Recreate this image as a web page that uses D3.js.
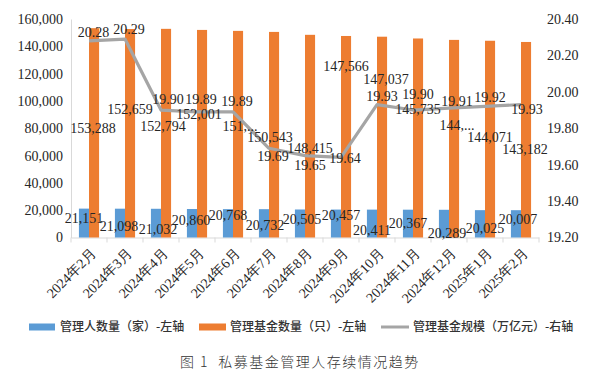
<!DOCTYPE html>
<html><head><meta charset="utf-8">
<script src="https://cdn.jsdelivr.net/npm/d3@7"></script>
<style>
html,body{margin:0;padding:0;background:#fff;}
svg{display:block;}
</style>
</head><body>
<svg id="c" width="607" height="382"></svg>
<script>
// ---- data ----
const categories = ["2024年2月","2024年3月","2024年4月","2024年5月","2024年6月","2024年7月","2024年8月","2024年9月","2024年10月","2024年11月","2024年12月","2025年1月","2025年2月"];
const managers = [21151,21098,21032,20860,20768,20732,20505,20457,20411,20367,20289,20025,20007];
const funds = [153288,152659,152794,152001,151300,150543,148415,147566,147037,145735,144700,144071,143182];
const fundTruncated = [false,false,false,false,true,false,false,false,false,false,true,false,false];
const scale = [20.28,20.29,19.90,19.89,19.89,19.69,19.65,19.64,19.93,19.90,19.91,19.92,19.93];
const leftTicks = [0,20000,40000,60000,80000,100000,120000,140000,160000];
const rightTicks = [19.2,19.4,19.6,19.8,20.0,20.2,20.4];
const seriesNames = ["管理人数量（家）-左轴","管理基金数量（只）-左轴","管理基金规模（万亿元）-右轴"];
const title = "图 1  私募基金管理人存续情况趋势";

// label nudges (pixels) as placed in the original
const mgrNudge = [[-5,9.4],[-6,17.3],[-3,20.2],[-6,11],[-5,5.9],[-4,15.8],[-3,9.5],[0,5.4],[-5,20.4],[-5,13.3],[-2,23.2],[0,17.8],[-3,8.8]];
const fundNudge = [[4,99.8],[5,80],[2,97.2],[2,84.1],[7,95],[1,105],[5,113],[5,30],[9,42],[5,70.5],[8,85],[5,96],[4,107]];
const scaleNudge = [[4.5,-8.8],[4,-10],[7,-11],[4,-12.9],[4,-10.9],[4,7.7],[5,9.4],[4,0.6],[5,-8.6],[5,-16],[8,-7.2],[5,-9.4],[6,4.4]];

// ---- layout ----
const svg = d3.select("#c");
const L = 71, R = 539, T = 19, B = 237.5;
const serif = "'Liberation Serif','Times New Roman',serif";
const cjk = "'Noto Sans CJK SC','Noto Sans',sans-serif";
const blue = "#5b9bd5", orange = "#ed7d31", grey = "#a5a5a5", axisCol = "#d9d9d9", txt = "#262626";

const x = d3.scaleBand().domain(categories).range([L, R]).paddingInner(0).paddingOuter(0);
const yL = d3.scaleLinear().domain([0,160000]).range([B, T]);
const yR = d3.scaleLinear().domain([19.2,20.4]).range([B, T]);
const barW = x.bandwidth() * 0.28;
const cx = d => x(d) + x.bandwidth()/2;

// left axis
const gL = svg.append("g").attr("transform",`translate(${L},0)`)
  .call(d3.axisLeft(yL).tickValues(leftTicks).tickSize(0).tickPadding(8).tickFormat(d3.format(",")));
gL.select(".domain").attr("stroke",axisCol);
gL.selectAll("text").attr("font-family",serif).attr("font-size",14).attr("fill",txt);

// right axis
const gR = svg.append("g").attr("transform",`translate(${R},0)`)
  .call(d3.axisRight(yR).tickValues(rightTicks).tickSize(0).tickPadding(8).tickFormat(d3.format(".2f")));
gR.select(".domain").remove();
gR.selectAll("text").attr("font-family",serif).attr("font-size",14).attr("fill",txt);

// bottom axis
const gB = svg.append("g").attr("transform",`translate(0,${B})`)
  .call(d3.axisBottom(x).tickSize(0).tickFormat(""));
gB.select(".domain").attr("stroke",axisCol);
gB.selectAll(".tick").remove();
const bounds = categories.map(c => x(c)).concat([R]);
gB.selectAll("line.sep").data(bounds).enter().append("line")
  .attr("x1",d=>d).attr("x2",d=>d).attr("y1",0).attr("y2",5).attr("stroke",axisCol);
gB.selectAll("text.cat").data(categories).enter().append("text")
  .attr("class","cat")
  .attr("transform",d=>`translate(${cx(d)+1},10) rotate(-45)`)
  .attr("text-anchor","end").attr("dy","0.7em")
  .attr("font-family",serif).attr("font-size",14).attr("fill",txt)
  .text(d=>d);

// bars
svg.append("g").selectAll("rect").data(managers).enter().append("rect")
  .attr("x",(d,i)=>cx(categories[i])-barW).attr("width",barW)
  .attr("y",d=>yL(d)).attr("height",d=>B-yL(d)).attr("fill",blue);
svg.append("g").selectAll("rect").data(funds).enter().append("rect")
  .attr("x",(d,i)=>cx(categories[i])).attr("width",barW)
  .attr("y",d=>yL(d)).attr("height",d=>B-yL(d)).attr("fill",orange);

// line
const line = d3.line().x((d,i)=>cx(categories[i])).y(d=>yR(d));
svg.append("path").datum(scale).attr("d",line).attr("fill","none")
  .attr("stroke",grey).attr("stroke-width",3.2).attr("stroke-linejoin","round");

// labels
const fmt = d3.format(",");
function labels(data, ys, nudge, textFn){
  svg.append("g").selectAll("text").data(data).enter().append("text")
    .attr("x",(d,i)=>cx(categories[i])+nudge[i][0])
    .attr("y",(d,i)=>ys(d)+nudge[i][1])
    .attr("dy","0.35em").attr("text-anchor","middle")
    .attr("font-family",serif).attr("font-size",14).attr("fill",txt)
    .text(textFn);
}
labels(managers, yL, mgrNudge, d=>fmt(d));
labels(funds, yL, fundNudge, (d,i)=> fundTruncated[i] ? fmt(d).slice(0,4)+"..." : fmt(d));
labels(scale, yR, scaleNudge, d=>d3.format(".2f")(d));

// legend
const lg = svg.append("g").attr("font-family",cjk).attr("font-size",12).attr("font-weight",500).attr("fill","#333");
const ly = 327;
lg.append("rect").attr("x",29).attr("y",ly-3.5).attr("width",26).attr("height",7).attr("fill",blue);
lg.append("text").attr("x",60).attr("y",ly).attr("dy","0.35em").text(seriesNames[0]);
lg.append("rect").attr("x",199).attr("y",ly-3.5).attr("width",27).attr("height",7).attr("fill",orange);
lg.append("text").attr("x",230).attr("y",ly).attr("dy","0.35em").text(seriesNames[1]);
lg.append("line").attr("x1",381).attr("x2",409).attr("y1",ly).attr("y2",ly).attr("stroke",grey).attr("stroke-width",3);
lg.append("text").attr("x",413).attr("y",ly).attr("dy","0.35em").text(seriesNames[2]);

// title
svg.append("text").attr("x",180).attr("y",362).attr("dy","0.35em")
  .attr("font-family","'Noto Sans CJK SC',serif").attr("font-size",14).attr("font-weight",300)
  .attr("letter-spacing","1.5px").attr("fill","#333")
  .style("white-space","pre").text(title);
</script>
</body></html>
